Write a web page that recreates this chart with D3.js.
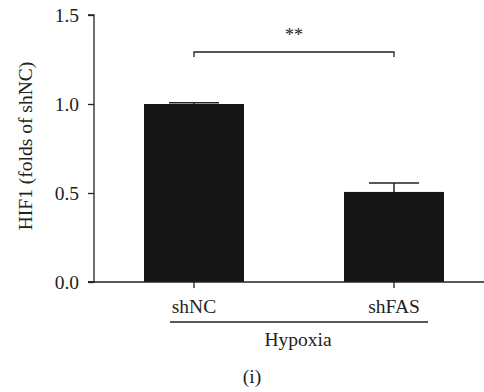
<!DOCTYPE html>
<html><head><meta charset="utf-8">
<script src="https://cdn.jsdelivr.net/npm/d3@7"></script>
<style>body{margin:0;background:#fff}svg{display:block}text{font-family:"Liberation Serif","Times New Roman",serif;fill:#222}</style>
</head><body>
<script>
const categories = ["shNC", "shFAS"];
const values = [1.0, 0.506];
const errors = [0.007, 0.05];
const yTicks = [0.0, 0.5, 1.0, 1.5];
const groupLabel = "Hypoxia";
const yLabel = "HIF1 (folds of shNC)";
const sigLabel = "**";
const panelLabel = "(i)";

const W = 484, H = 392;
const FS = "19.5px";
const svg = d3.select("body").append("svg").attr("width", W).attr("height", H);
const y = d3.scaleLinear().domain([0, 1.5]).range([282, 15]);
const x = d3.scaleBand().domain(categories).range([94, 494]).paddingInner(0.5).paddingOuter(0.25);

// bars
svg.selectAll("rect.bar").data(categories).enter().append("rect")
  .attr("x", d => x(d)).attr("width", x.bandwidth())
  .attr("y", (d, i) => y(values[i])).attr("height", (d, i) => y(0) - y(values[i]))
  .attr("fill", "#161616");

// error bars
categories.forEach((c, i) => {
  const cx = x(c) + x.bandwidth() / 2;
  svg.append("line").attr("x1", cx).attr("x2", cx).attr("y1", y(values[i])).attr("y2", y(values[i] + errors[i]))
    .attr("stroke", "#222").attr("stroke-width", 1.5);
  svg.append("line").attr("x1", cx - x.bandwidth() / 4).attr("x2", cx + x.bandwidth() / 4)
    .attr("y1", y(values[i] + errors[i])).attr("y2", y(values[i] + errors[i]))
    .attr("stroke", "#222").attr("stroke-width", 1.5);
});

// y axis
const yAxis = d3.axisLeft(y).tickValues(yTicks).tickFormat(d3.format(".1f")).tickSize(6).tickPadding(9);
const gy = svg.append("g").attr("transform", "translate(94,0)").call(yAxis);
gy.select(".domain").attr("stroke", "#222").attr("stroke-width", 1.3).attr("d", "M-6,15H0V282H-6");
gy.selectAll(".tick line").attr("stroke", "#222").attr("stroke-width", 1.3);
gy.selectAll(".tick text").style("font-size", FS).attr("fill", "#222").style("font-family", "Liberation Serif");

// x axis
svg.append("line").attr("x1", 88).attr("x2", 484).attr("y1", 282).attr("y2", 282).attr("stroke", "#222").attr("stroke-width", 1.3);
categories.forEach(c => {
  const cx = x(c) + x.bandwidth() / 2;
  svg.append("line").attr("x1", cx).attr("x2", cx).attr("y1", 282).attr("y2", 288).attr("stroke", "#222").attr("stroke-width", 1.3);
  svg.append("text").attr("x", cx).attr("y", 313).attr("text-anchor", "middle").style("font-size", FS).text(c);
});

// group line & label
svg.append("line").attr("x1", 170).attr("x2", 428).attr("y1", 322).attr("y2", 322).attr("stroke", "#222").attr("stroke-width", 1.3);
svg.append("text").attr("x", 298).attr("y", 346).attr("text-anchor", "middle").style("font-size", FS).text(groupLabel);

// panel label
svg.append("text").attr("x", 252).attr("y", 383).attr("text-anchor", "middle").style("font-size", FS).text(panelLabel);

// y label
svg.append("text").attr("transform", "translate(32,146) rotate(-90)").attr("text-anchor", "middle").style("font-size", FS).text(yLabel);

// significance bracket
const x1 = x(categories[0]) + x.bandwidth() / 2, x2 = x(categories[1]) + x.bandwidth() / 2;
svg.append("path").attr("d", `M${x1},57V52H${x2}V57`).attr("fill", "none").attr("stroke", "#222").attr("stroke-width", 1.3);
svg.append("text").attr("x", (x1 + x2) / 2).attr("y", 41).attr("text-anchor", "middle").style("font-size", "18px").text(sigLabel);
</script>
</body></html>
